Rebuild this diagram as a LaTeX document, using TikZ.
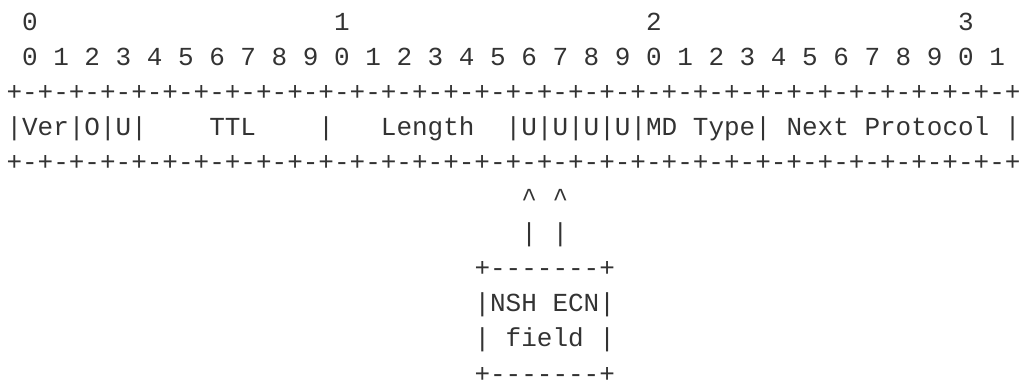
\documentclass[tikz,border=0pt]{standalone}
\usepackage{fontspec}
\setmonofont{Liberation Mono}
\definecolor{ink}{HTML}{333333}
\begin{document}
\begin{tikzpicture}[x=0.75pt,y=-0.75pt,
  row/.style={anchor=base west, inner sep=0pt, outer sep=0pt,
    font=\ttfamily\fontsize{19.5}{23}\selectfont, text=ink}]
\useasboundingbox (0,0) rectangle (1022,387);
% column pitch 15.6, first column starts at 6.5; line pitch 35.2
% bit-number ruler
\node[row] (tens0) at ({6.5+15.6*1},30) {0};
\node[row] (tens1) at ({6.5+15.6*21},30) {1};
\node[row] (tens2) at ({6.5+15.6*41},30) {2};
\node[row] (tens3) at ({6.5+15.6*61},30) {3};
\node[row] (units) at ({6.5+15.6*1},65.2)
  {0~1~2~3~4~5~6~7~8~9~0~1~2~3~4~5~6~7~8~9~0~1~2~3~4~5~6~7~8~9~0~1};
% header word
\node[row] (top) at (6.5,100.4)
  {+-+-+-+-+-+-+-+-+-+-+-+-+-+-+-+-+-+-+-+-+-+-+-+-+-+-+-+-+-+-+-+-+};
\node[row] (fields) at (6.5,135.6)
  {|Ver|O|U|~~~~TTL~~~~|~~~Length~~|U|U|U|U|MD~Type|~Next~Protocol~|};
\node[row] (bottom) at (6.5,170.8)
  {+-+-+-+-+-+-+-+-+-+-+-+-+-+-+-+-+-+-+-+-+-+-+-+-+-+-+-+-+-+-+-+-+};
% pointers to the ECN bits
\node[row] (carets) at ({6.5+15.6*33},206) {\textasciicircum~\textasciicircum};
\node[row] (stems) at ({6.5+15.6*33},241.2) {|~|};
% label box
\node[row] (boxtop) at ({6.5+15.6*30},276.4) {+-------+};
\node[row] (boxl1) at ({6.5+15.6*30},311.6) {|NSH~ECN|};
\node[row] (boxl2) at ({6.5+15.6*30},346.8) {|~field~|};
\node[row] (boxbot) at ({6.5+15.6*30},382) {+-------+};
\end{tikzpicture}
\end{document}
